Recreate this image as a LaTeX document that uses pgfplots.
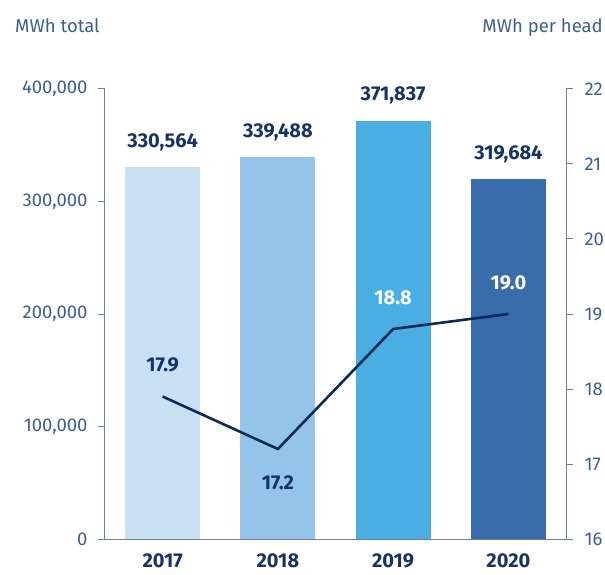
\documentclass[border=0pt]{standalone}
\usepackage{pgfplots}
\pgfplotsset{compat=1.18}
\usepackage{fontspec}
\setmainfont{Fira Sans}
\definecolor{axcol}{HTML}{6D7FA0}
\definecolor{lblcol}{HTML}{3D5F8F}
\definecolor{navy}{HTML}{143463}
\definecolor{lineC}{HTML}{0D2A54}
\definecolor{bA}{HTML}{C9DFF3}
\definecolor{bB}{HTML}{94C4EA}
\definecolor{bC}{HTML}{4AAEE2}
\definecolor{bD}{HTML}{386CAB}
\newcommand{\fs}{\fontsize{18.5}{22}\selectfont}
\newcommand{\fb}{\fontsize{20}{24}\selectfont\bfseries}
\begin{document}
\begin{tikzpicture}
\useasboundingbox (-105pt,-35pt) rectangle (500pt,539pt);
\pgfplotsset{
  common/.style={
    at={(0,0)}, anchor=south west,
    scale only axis, width=461pt, height=450pt,
    xmin=-0.5, xmax=3.5, clip=false,
    /pgf/number format/assume math mode=true,
    tick align=outside, major tick length=7pt,
    axis line style={draw=axcol, line width=1pt, -},
    every tick/.style={draw=axcol, line width=1pt},
  }
}
\begin{axis}[common,
  ymin=0, ymax=400000,
  axis y line*=left, axis x line*=bottom,
  xtick={0,1,2,3}, xticklabels={2017,2018,2019,2020},
  x tick style={draw=none},
  xticklabel style={font=\fb, text=navy, anchor=center, yshift=-15pt},
  ytick={0,100000,200000,300000,400000},
  scaled y ticks=false,
  yticklabel style={/pgf/number format/fixed, /pgf/number format/1000 sep={,}, font=\fs, text=lblcol, xshift=-7pt},
  ybar, bar width=75pt,
  nodes near coords,
  every node near coord/.append style={/pgf/number format/fixed, /pgf/number format/precision=0, /pgf/number format/1000 sep={,}, font=\fb, text=navy, anchor=center, yshift=25pt},
]
\addplot[fill=bA, draw=none, bar shift=0pt] coordinates {(0,330564)};
\addplot[fill=bB, draw=none, bar shift=0pt] coordinates {(1,339488)};
\addplot[fill=bC, draw=none, bar shift=0pt] coordinates {(2,371837)};
\addplot[fill=bD, draw=none, bar shift=0pt] coordinates {(3,319684)};
\end{axis}
\begin{axis}[common,
  ymin=16, ymax=22,
  axis y line*=right, axis x line=none,
  ytick={16,17,18,19,20,21,22},
  yticklabel style={font=\fs, text=lblcol, xshift=8pt},
  every node near coord/.append style={/pgf/number format/fixed, /pgf/number format/fixed zerofill, /pgf/number format/precision=1, font=\fb, anchor=center},
]
\addplot[lineC, line width=2.6pt, mark=none] coordinates {(0,17.9) (1,17.2) (2,18.8) (3,19.0)};
\addplot[draw=none, mark=none, nodes near coords, every node near coord/.append style={text=navy, yshift=32pt}] coordinates {(0,17.9)};
\addplot[draw=none, mark=none, nodes near coords, every node near coord/.append style={text=navy, yshift=-34pt}] coordinates {(1,17.2)};
\addplot[draw=none, mark=none, nodes near coords, every node near coord/.append style={text=white, yshift=31pt}] coordinates {(2,18.8) (3,19.0)};
\end{axis}
\node[anchor=base west, inner sep=0, font=\fs, text=lblcol] at (-90pt,506pt) {MWh total};
\node[anchor=base east, inner sep=0, font=\fs, text=lblcol] at (498pt,506pt) {MWh per head};
\end{tikzpicture}
\end{document}
